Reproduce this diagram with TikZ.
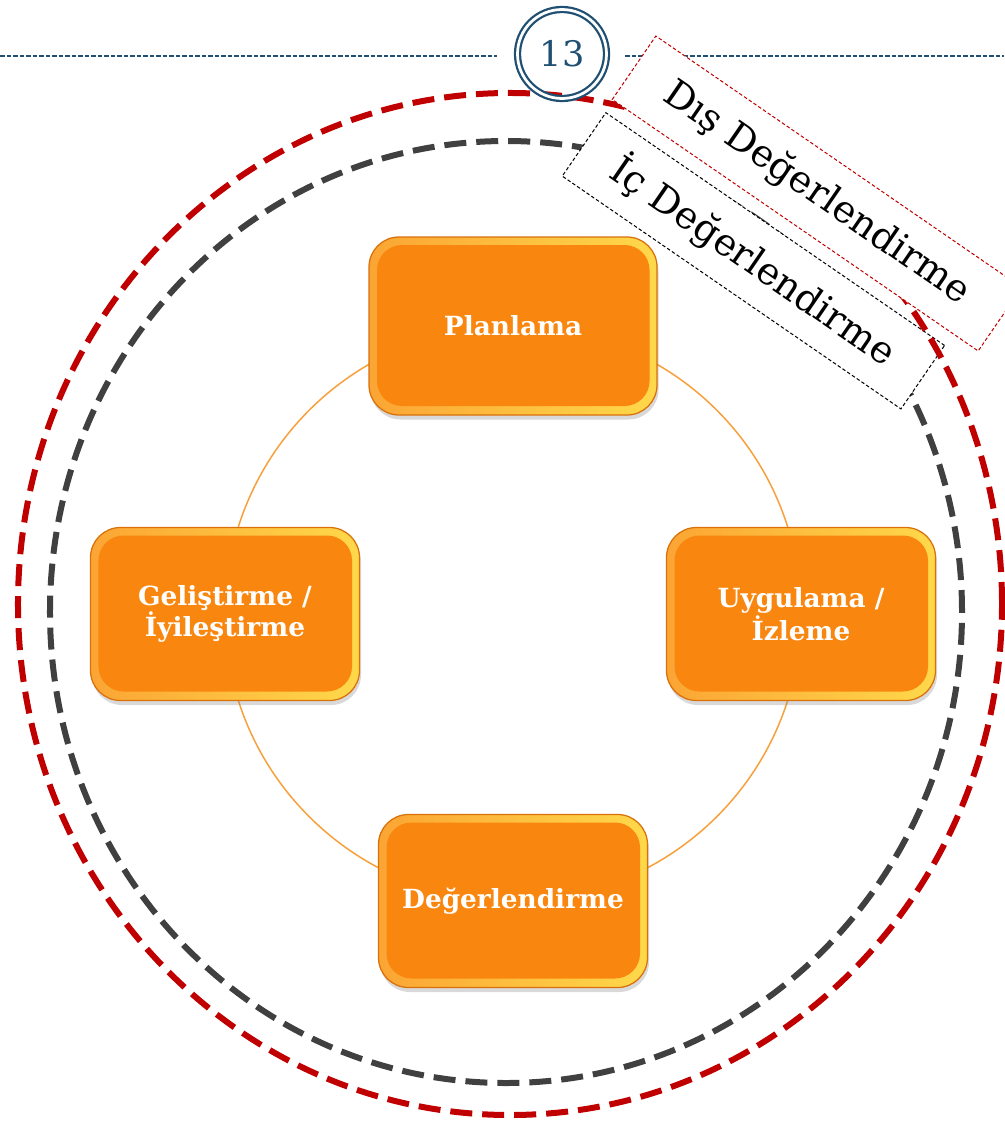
\documentclass[tikz,border=0pt]{standalone}
\usepackage{fontspec}
\setmainfont{DejaVu Serif}
\usetikzlibrary{shadows,backgrounds}
\definecolor{boxorange}{HTML}{F9870F}
\definecolor{boxdark}{HTML}{D9700A}
\definecolor{boxmid}{HTML}{EC7C0C}
\definecolor{boxlight}{HTML}{FBA534}
\definecolor{boxyellow}{HTML}{FFD84A}
\definecolor{ringred}{HTML}{C00000}
\definecolor{ringgray}{HTML}{404040}
\definecolor{headblue}{HTML}{1F5073}
\definecolor{cycleorange}{HTML}{F7A03C}
\begin{document}
\begin{tikzpicture}[x=0.2mm,y=-0.2mm,
  stage/.style={rounded corners=6mm, minimum width=53.8mm, minimum height=34.6mm,
    align=center, text=white, font=\fontsize{15}{17}\selectfont\bfseries,
    left color=boxlight, middle color=boxmid, right color=boxyellow,
    draw=boxdark, line width=0.25mm,
    drop shadow={shadow xshift=0.3mm, shadow yshift=-0.9mm, opacity=0.3},
    path picture={\fill[boxorange, rounded corners=5mm]
      ([shift={(1.6mm,-1.6mm)}]path picture bounding box.north west) rectangle
      ([shift={(-1.5mm,1.8mm)}]path picture bounding box.south east);}},
  ring/.style={line width=1.2mm, dash pattern=on 4.4mm off 2mm},
  evalbox/.style={rotate=-34.5, fill=white, line width=0.2mm, dash pattern=on 0.7mm off 0.45mm,
    minimum height=15.4mm, font=\fontsize{21.5}{23}\selectfont},
  headline/.style={headblue, line width=0.3mm, dash pattern=on 0.9mm off 0.4mm},
  cyclearc/.style={cycleorange, line width=0.3mm}]
\useasboundingbox (0,0) rectangle (1004,1123);
\coordinate (hl) at (0,56);
\coordinate (hlend) at (497,56);
\coordinate (hrstart) at (625,56);
\coordinate (hr) at (1004,56);
\draw[headline] (hl) -- (hlend);
\draw[headline] (hrstart) -- (hr);
\draw[ring, ringgray] (506,612) ellipse [x radius=91.2mm, y radius=94.2mm];
\node[evalbox, draw=black, minimum width=82.2mm] (ic) at (753.4,260.8) {İç Değerlendirme};
\draw[ring, ringred] (510,604) ellipse [x radius=98.4mm, y radius=102.2mm];
\node[evalbox, draw=ringred, minimum width=88.8mm] (dis) at (817,193.5) {Dış Değerlendirme};
\node[circle, draw=headblue, line width=0.45mm, double=white, double distance=0.55mm,
  minimum size=17.8mm, text=headblue, font=\fontsize{20}{22}\selectfont] (page) at (562,54) {13};
\node[stage, minimum width=57.6mm, minimum height=35.6mm] (plan) at (513,326) {Planlama};
\node[stage] (uyg) at (801,614) {Uygulama /\\İzleme};
\node[stage] (deg) at (513,901) {Değerlendirme};
\node[stage] (gel) at (225,614) {Geliştirme /\\İyileştirme};
\begin{scope}[on background layer]
\draw[cyclearc] (plan.center) to[out=0,in=90] (uyg.center);
\draw[cyclearc] (uyg.center) to[out=-90,in=0] (deg.center);
\draw[cyclearc] (deg.center) to[out=180,in=-90] (gel.center);
\draw[cyclearc] (gel.center) to[out=90,in=180] (plan.center);
\end{scope}
\end{tikzpicture}
\end{document}
